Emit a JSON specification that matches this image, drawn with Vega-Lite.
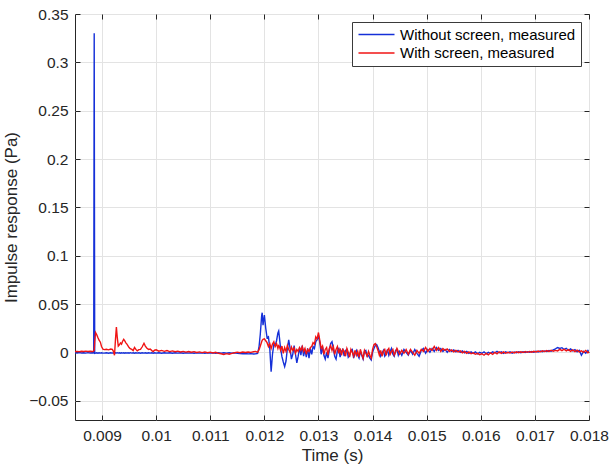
{
  "$schema": "https://vega.github.io/schema/vega-lite/v6.json",
  "width": 514,
  "height": 406,
  "autosize": "none",
  "padding": {"left": 75, "top": 14, "right": 22, "bottom": 52},
  "background": "white",
  "config": {
    "font": "Liberation Sans",
    "view": {"stroke": "#262626", "strokeWidth": 1},
    "axis": {
      "domain": false,
      "grid": true,
      "gridColor": "#e3e3e3",
      "gridWidth": 1,
      "tickColor": "#262626",
      "tickSize": -5,
      "tickWidth": 1,
      "labelColor": "#262626",
      "labelFont": "Liberation Sans",
      "labelFontSize": 15.5,
      "labelOverlap": false,
      "labelFlush": false,
      "titleColor": "#262626",
      "titleFont": "Liberation Sans",
      "titleFontSize": 17,
      "titleFontWeight": "normal"
    },
    "legend": {
      "orient": "top-right",
      "offset": 8,
      "title": null,
      "strokeColor": "#3a3a3a",
      "fillColor": "white",
      "padding": 5,
      "rowPadding": 2.5,
      "symbolType": "M-3,0H3",
      "symbolSize": 144,
      "symbolStrokeWidth": 1.3,
      "symbolOffset": 12,
      "labelOffset": 16,
      "labelLimit": 0,
      "labelFont": "Liberation Sans",
      "labelFontSize": 15,
      "labelColor": "black"
    }
  },
  "datasets": {
    "ir": [
      {"t":0.0085,"a":-0.0004,"b":0.0008},
      {"t":0.00854,"a":-0.0008,"b":0.001},
      {"t":0.00858,"a":-0.0003,"b":0.0007},
      {"t":0.00862,"a":-0.0007,"b":0.0011},
      {"t":0.00866,"a":-0.0004,"b":0.0008},
      {"t":0.0087,"a":-0.0008,"b":0.0012},
      {"t":0.00874,"a":-0.0003,"b":0.0009},
      {"t":0.00878,"a":-0.0007,"b":0.0011},
      {"t":0.00882,"a":-0.0004,"b":0.0009},
      {"t":0.00884,"a":-0.0006,"b":0.001},
      {"t":0.008846,"a":-0.0005,"b":0.0015},
      {"t":0.008855,"a":0.33,"b":0.002},
      {"t":0.008864,"a":-0.001,"b":0.011},
      {"t":0.00888,"a":-0.0008,"b":0.0205},
      {"t":0.0089,"a":-0.0004,"b":0.0185},
      {"t":0.008925,"a":-0.0009,"b":0.015},
      {"t":0.008945,"a":-0.0005,"b":0.0125},
      {"t":0.008969,"a":-0.0008,"b":0.0105},
      {"t":0.00899,"a":-0.0004,"b":0.006},
      {"t":0.009017,"a":-0.0008,"b":0.0032},
      {"t":0.00904,"a":-0.0008,"b":0.0028},
      {"t":0.00908,"a":-0.0004,"b":0.0032},
      {"t":0.00912,"a":-0.0009,"b":0.0026},
      {"t":0.00916,"a":-0.0005,"b":0.0034},
      {"t":0.00919,"a":-0.0008,"b":0.003},
      {"t":0.00921,"a":-0.0004,"b":0.001},
      {"t":0.00923,"a":-0.0009,"b":-0.003},
      {"t":0.00925,"a":-0.0005,"b":0.015},
      {"t":0.009265,"a":-0.0008,"b":0.0262},
      {"t":0.00928,"a":-0.0004,"b":0.016},
      {"t":0.0093,"a":-0.0008,"b":0.0065},
      {"t":0.00932,"a":-0.0005,"b":0.0078},
      {"t":0.00934,"a":-0.0009,"b":0.0098},
      {"t":0.00936,"a":-0.0004,"b":0.0085},
      {"t":0.00938,"a":-0.0008,"b":0.0115},
      {"t":0.0094,"a":-0.0005,"b":0.0135},
      {"t":0.00942,"a":-0.0009,"b":0.0118},
      {"t":0.00944,"a":-0.0004,"b":0.0098},
      {"t":0.00946,"a":-0.0008,"b":0.0085},
      {"t":0.00948,"a":-0.0005,"b":0.0068},
      {"t":0.0095,"a":-0.0009,"b":0.005},
      {"t":0.00952,"a":-0.0004,"b":0.0038},
      {"t":0.00955,"a":-0.0008,"b":0.003},
      {"t":0.009575,"a":-0.0005,"b":0.0018},
      {"t":0.0096,"a":-0.0009,"b":0.005},
      {"t":0.009625,"a":-0.0004,"b":0.003},
      {"t":0.00965,"a":-0.0008,"b":0.0015},
      {"t":0.00968,"a":-0.0005,"b":0.0028},
      {"t":0.00971,"a":-0.0009,"b":0.003},
      {"t":0.00974,"a":-0.0004,"b":0.0055},
      {"t":0.009775,"a":-0.0008,"b":0.0094},
      {"t":0.0098,"a":-0.0005,"b":0.0065},
      {"t":0.00983,"a":-0.0009,"b":0.0042},
      {"t":0.00986,"a":-0.0004,"b":0.003},
      {"t":0.00989,"a":-0.0008,"b":0.0034},
      {"t":0.00992,"a":-0.0005,"b":0.0018},
      {"t":0.009945,"a":-0.0009,"b":0.0008},
      {"t":0.00997,"a":-0.0004,"b":0.0022},
      {"t":0.01,"a":-0.0008,"b":0.0026},
      {"t":0.01005,"a":-0.0005,"b":0.0012},
      {"t":0.0101,"a":-0.0009,"b":0.002},
      {"t":0.01015,"a":-0.0004,"b":0.001},
      {"t":0.0102,"a":-0.0008,"b":0.0018},
      {"t":0.01025,"a":-0.0005,"b":0.0008},
      {"t":0.0103,"a":-0.0009,"b":0.0015},
      {"t":0.01035,"a":-0.0004,"b":0.0006},
      {"t":0.0104,"a":-0.0008,"b":0.0012},
      {"t":0.01045,"a":-0.0005,"b":0.0004},
      {"t":0.0105,"a":-0.0009,"b":0.001},
      {"t":0.01055,"a":-0.0004,"b":0.0002},
      {"t":0.0106,"a":-0.0008,"b":0.0009},
      {"t":0.01065,"a":-0.0005,"b":0.0001},
      {"t":0.0107,"a":-0.0009,"b":0.0007},
      {"t":0.01075,"a":-0.0004,"b":-0.0002},
      {"t":0.0108,"a":-0.0008,"b":0.0005},
      {"t":0.01085,"a":-0.0005,"b":-0.0003},
      {"t":0.0109,"a":-0.0009,"b":0.0004},
      {"t":0.01095,"a":-0.0004,"b":-0.0004},
      {"t":0.011,"a":-0.0008,"b":0.0002},
      {"t":0.01105,"a":-0.0005,"b":-0.0006},
      {"t":0.0111,"a":-0.0009,"b":0},
      {"t":0.01115,"a":-0.0004,"b":-0.001},
      {"t":0.0112,"a":-0.0008,"b":-0.0015},
      {"t":0.01125,"a":-0.0005,"b":-0.0022},
      {"t":0.0113,"a":-0.0009,"b":-0.0014},
      {"t":0.01135,"a":-0.0004,"b":-0.002},
      {"t":0.0114,"a":-0.0008,"b":-0.001},
      {"t":0.01145,"a":-0.0005,"b":-0.0004},
      {"t":0.0115,"a":-0.001,"b":0.0002},
      {"t":0.01155,"a":-0.0012,"b":-0.0004},
      {"t":0.0116,"a":-0.0015,"b":0.0003},
      {"t":0.01165,"a":-0.0012,"b":-0.0002},
      {"t":0.0117,"a":-0.0016,"b":0.0004},
      {"t":0.01175,"a":-0.0013,"b":0},
      {"t":0.0118,"a":-0.0017,"b":0.0006},
      {"t":0.01184,"a":-0.0014,"b":0.001},
      {"t":0.011875,"a":-0.001,"b":0},
      {"t":0.0119,"a":0.005,"b":0.0025},
      {"t":0.011925,"a":0.019,"b":0.0065},
      {"t":0.01195,"a":0.038,"b":0.011},
      {"t":0.01196,"a":0.041,"b":0.0125},
      {"t":0.011975,"a":0.028,"b":0.0135},
      {"t":0.012,"a":0.0386,"b":0.014},
      {"t":0.012025,"a":0.025,"b":0.012},
      {"t":0.01205,"a":0.015,"b":0.01},
      {"t":0.012075,"a":0.016,"b":0.006},
      {"t":0.0121,"a":0.004,"b":0.009},
      {"t":0.012125,"a":-0.02,"b":0.004},
      {"t":0.01215,"a":-0.002,"b":0.0085},
      {"t":0.012175,"a":0.008,"b":0.011},
      {"t":0.0122,"a":0.007,"b":0.006},
      {"t":0.012225,"a":0.012,"b":0.009},
      {"t":0.01225,"a":0.02,"b":0.004},
      {"t":0.012265,"a":0.022,"b":0.007},
      {"t":0.012275,"a":0.017,"b":0.0065},
      {"t":0.0123,"a":0.004,"b":0.002},
      {"t":0.012325,"a":-0.0045,"b":0.0065},
      {"t":0.01235,"a":-0.01,"b":-0.001},
      {"t":0.012375,"a":-0.0148,"b":0.005},
      {"t":0.0124,"a":-0.009,"b":0.001},
      {"t":0.012425,"a":0.004,"b":0.007},
      {"t":0.01245,"a":0.013,"b":0.003},
      {"t":0.012475,"a":0.004,"b":0},
      {"t":0.0125,"a":-0.007,"b":0.0055},
      {"t":0.012525,"a":-0.002,"b":0.002},
      {"t":0.01255,"a":0.007,"b":0.0045},
      {"t":0.012575,"a":-0.002,"b":-0.001},
      {"t":0.0126,"a":-0.011,"b":0.003},
      {"t":0.012625,"a":-0.004,"b":0.001},
      {"t":0.01265,"a":0.005,"b":0.005},
      {"t":0.012675,"a":-0.003,"b":0.002},
      {"t":0.0127,"a":0.007,"b":0.006},
      {"t":0.012725,"a":-0.004,"b":0.001},
      {"t":0.01275,"a":0.003,"b":0.004},
      {"t":0.012775,"a":-0.005,"b":-0.002},
      {"t":0.0128,"a":0.004,"b":0.003},
      {"t":0.012825,"a":-0.006,"b":0.001},
      {"t":0.01285,"a":0.004,"b":0.005},
      {"t":0.012875,"a":-0.002,"b":0.006},
      {"t":0.0129,"a":0.006,"b":0.01},
      {"t":0.012925,"a":0.004,"b":0.0085},
      {"t":0.01295,"a":0.011,"b":0.016},
      {"t":0.012975,"a":0.013,"b":0.014},
      {"t":0.013,"a":0.0175,"b":0.0205},
      {"t":0.013025,"a":0.01,"b":0.012},
      {"t":0.01305,"a":-0.002,"b":0.004},
      {"t":0.013075,"a":0.006,"b":0.0065},
      {"t":0.0131,"a":-0.003,"b":-0.002},
      {"t":0.013125,"a":-0.007,"b":0.003},
      {"t":0.01315,"a":0,"b":0.005},
      {"t":0.013175,"a":-0.006,"b":-0.003},
      {"t":0.0132,"a":0.002,"b":0.004},
      {"t":0.013225,"a":0.009,"b":0.007},
      {"t":0.01325,"a":0.011,"b":0.002},
      {"t":0.013275,"a":0.004,"b":0.006},
      {"t":0.0133,"a":-0.004,"b":-0.002},
      {"t":0.013325,"a":-0.007,"b":0.003},
      {"t":0.01335,"a":0.002,"b":0.006},
      {"t":0.013375,"a":0.004,"b":-0.001},
      {"t":0.0134,"a":-0.005,"b":0.004},
      {"t":0.013425,"a":0.001,"b":-0.003},
      {"t":0.01345,"a":0.003,"b":0.003},
      {"t":0.013475,"a":-0.004,"b":0.001},
      {"t":0.0135,"a":0.002,"b":-0.004},
      {"t":0.013525,"a":0.003,"b":0.004},
      {"t":0.01355,"a":-0.005,"b":0},
      {"t":0.013575,"a":-0.003,"b":-0.005},
      {"t":0.0136,"a":0.002,"b":0.003},
      {"t":0.013625,"a":0.003,"b":0},
      {"t":0.01365,"a":-0.006,"b":-0.004},
      {"t":0.013675,"a":-0.001,"b":0.002},
      {"t":0.0137,"a":0.002,"b":-0.003},
      {"t":0.013725,"a":-0.003,"b":0.001},
      {"t":0.01375,"a":-0.006,"b":-0.005},
      {"t":0.013775,"a":0.001,"b":0.003},
      {"t":0.0138,"a":-0.003,"b":-0.002},
      {"t":0.013825,"a":-0.007,"b":-0.006},
      {"t":0.01385,"a":0.001,"b":0.002},
      {"t":0.013875,"a":0.002,"b":-0.001},
      {"t":0.0139,"a":-0.004,"b":-0.004},
      {"t":0.013925,"a":-0.003,"b":0.001},
      {"t":0.01395,"a":-0.006,"b":-0.003},
      {"t":0.013975,"a":-0.008,"b":-0.006},
      {"t":0.014,"a":0,"b":0.003},
      {"t":0.014025,"a":0.004,"b":0.008},
      {"t":0.01405,"a":0.007,"b":0.009},
      {"t":0.014075,"a":0.008,"b":0.006},
      {"t":0.0141,"a":0.005,"b":0.002},
      {"t":0.014125,"a":0.001,"b":-0.003},
      {"t":0.01415,"a":-0.004,"b":0.002},
      {"t":0.014175,"a":-0.001,"b":-0.004},
      {"t":0.0142,"a":0.002,"b":0.001},
      {"t":0.014225,"a":-0.004,"b":0.003},
      {"t":0.01425,"a":-0.002,"b":-0.003},
      {"t":0.014275,"a":0.003,"b":0.002},
      {"t":0.0143,"a":-0.003,"b":0.004},
      {"t":0.014325,"a":0.001,"b":-0.002},
      {"t":0.01435,"a":0.004,"b":0.001},
      {"t":0.014375,"a":-0.002,"b":0.003},
      {"t":0.0144,"a":-0.004,"b":-0.003},
      {"t":0.014425,"a":0.002,"b":0},
      {"t":0.01445,"a":0.003,"b":0.004},
      {"t":0.014475,"a":-0.003,"b":0.001},
      {"t":0.0145,"a":0.001,"b":-0.002},
      {"t":0.01454,"a":-0.003,"b":0.002},
      {"t":0.01458,"a":0.003,"b":-0.001},
      {"t":0.01462,"a":0,"b":0.003},
      {"t":0.01466,"a":-0.003,"b":-0.002},
      {"t":0.0147,"a":0.002,"b":0.003},
      {"t":0.01474,"a":-0.002,"b":0},
      {"t":0.01478,"a":0.003,"b":-0.003},
      {"t":0.01482,"a":-0.001,"b":0.002},
      {"t":0.01486,"a":-0.004,"b":-0.001},
      {"t":0.0149,"a":0.002,"b":0.003},
      {"t":0.01494,"a":0.004,"b":0.001},
      {"t":0.01498,"a":-0.001,"b":0.005},
      {"t":0.01502,"a":0.003,"b":0.001},
      {"t":0.01506,"a":0,"b":0.004},
      {"t":0.0151,"a":0.004,"b":0.002},
      {"t":0.01514,"a":0.001,"b":0.006},
      {"t":0.01518,"a":0.005,"b":0.002},
      {"t":0.01522,"a":0.002,"b":0.005},
      {"t":0.01526,"a":0.004,"b":0.001},
      {"t":0.0153,"a":0.001,"b":0.004},
      {"t":0.01534,"a":0.003,"b":0.002},
      {"t":0.01538,"a":0,"b":0.0035},
      {"t":0.01542,"a":0.003,"b":0.001},
      {"t":0.01546,"a":0.001,"b":0.0025},
      {"t":0.0155,"a":0.0025,"b":0.0005},
      {"t":0.01554,"a":0.0005,"b":0.002},
      {"t":0.01558,"a":0.002,"b":0.0005},
      {"t":0.01562,"a":0,"b":0.0015},
      {"t":0.01566,"a":0.0015,"b":-0.0005},
      {"t":0.0157,"a":-0.0005,"b":0.001},
      {"t":0.01574,"a":0.001,"b":-0.001},
      {"t":0.01578,"a":-0.001,"b":0.0005},
      {"t":0.01582,"a":0.0005,"b":-0.0015},
      {"t":0.01586,"a":-0.001,"b":-0.0005},
      {"t":0.0159,"a":0.0005,"b":-0.002},
      {"t":0.01594,"a":-0.0015,"b":-0.001},
      {"t":0.01598,"a":0,"b":-0.0025},
      {"t":0.01602,"a":-0.001,"b":-0.0015},
      {"t":0.01606,"a":0.0005,"b":-0.003},
      {"t":0.0161,"a":-0.0015,"b":-0.001},
      {"t":0.01614,"a":0,"b":-0.0025},
      {"t":0.01618,"a":-0.001,"b":-0.0005},
      {"t":0.01622,"a":0.0005,"b":-0.002},
      {"t":0.01626,"a":-0.0005,"b":0},
      {"t":0.0163,"a":0.001,"b":-0.0015},
      {"t":0.01634,"a":-0.0005,"b":0.0005},
      {"t":0.01638,"a":0.0005,"b":-0.001},
      {"t":0.01642,"a":-0.001,"b":0.0005},
      {"t":0.01646,"a":0.0005,"b":-0.001},
      {"t":0.0165,"a":-0.0005,"b":0},
      {"t":0.01654,"a":0.0005,"b":-0.0008},
      {"t":0.01658,"a":-0.0008,"b":0.0004},
      {"t":0.01662,"a":0.0003,"b":-0.0006},
      {"t":0.01666,"a":-0.0005,"b":0.0005},
      {"t":0.0167,"a":0.0005,"b":-0.0004},
      {"t":0.01674,"a":-0.0004,"b":0.0006},
      {"t":0.01678,"a":0.0006,"b":-0.0002},
      {"t":0.01682,"a":-0.0002,"b":0.0008},
      {"t":0.01686,"a":0.0007,"b":0},
      {"t":0.0169,"a":0,"b":0.0009},
      {"t":0.01694,"a":0.0009,"b":0.0002},
      {"t":0.01698,"a":0.0002,"b":0.0011},
      {"t":0.01702,"a":0.0011,"b":0.0004},
      {"t":0.01706,"a":0.0004,"b":0.0013},
      {"t":0.0171,"a":0.0013,"b":0.0005},
      {"t":0.01714,"a":0.0006,"b":0.0016},
      {"t":0.01718,"a":0.0015,"b":0.0008},
      {"t":0.01722,"a":0.0008,"b":0.0018},
      {"t":0.01726,"a":0.0018,"b":0.001},
      {"t":0.0173,"a":0.0012,"b":0.0022},
      {"t":0.01734,"a":0.0025,"b":0.0012},
      {"t":0.01738,"a":0.0035,"b":0.002},
      {"t":0.01742,"a":0.005,"b":0.0015},
      {"t":0.01746,"a":0.004,"b":0.003},
      {"t":0.0175,"a":0.0048,"b":0.0018},
      {"t":0.01754,"a":0.003,"b":0.0032},
      {"t":0.01758,"a":0.0042,"b":0.0015},
      {"t":0.01762,"a":0.002,"b":0.0028},
      {"t":0.01766,"a":0.0035,"b":0.001},
      {"t":0.0177,"a":0.0015,"b":0.0025},
      {"t":0.01774,"a":0.0028,"b":0.0008},
      {"t":0.01778,"a":0.0005,"b":0.0022},
      {"t":0.01782,"a":0.002,"b":0.0005},
      {"t":0.01786,"a":-0.003,"b":0.0015},
      {"t":0.0179,"a":0.001,"b":0},
      {"t":0.01794,"a":-0.001,"b":0.002},
      {"t":0.01798,"a":0.002,"b":-0.0005},
      {"t":0.018,"a":0.0005,"b":0.001}
    ]
  },
  "layer": [
    {
      "data": {"name": "ir"},
      "transform": [{"fold": ["a", "b"], "as": ["series", "p"]}],
      "mark": {"type": "line", "strokeWidth": 1.4, "clip": true},
      "encoding": {
        "x": {
          "field": "t",
          "type": "quantitative",
          "scale": {"domain": [0.0085, 0.018], "nice": false, "zero": false},
          "axis": {
            "values": [0.009, 0.01, 0.011, 0.012, 0.013, 0.014, 0.015, 0.016, 0.017, 0.018],
            "format": "~f",
            "title": "Time (s)",
            "labelPadding": 13,
            "titlePadding": 4
          }
        },
        "y": {
          "field": "p",
          "type": "quantitative",
          "scale": {"domain": [-0.07, 0.35], "nice": false, "zero": false},
          "axis": {
            "values": [-0.05, 0, 0.05, 0.1, 0.15, 0.2, 0.25, 0.3, 0.35],
            "format": "~f",
            "title": "Impulse response (Pa)",
            "labelPadding": 12,
            "titlePadding": 8
          }
        },
        "color": {
          "field": "series",
          "type": "nominal",
          "scale": {"domain": ["a", "b"], "range": ["#1530d8", "#f01414"]},
          "legend": {
            "labelExpr": "datum.value == 'a' ? 'Without screen, measured' : 'With screen, measured'"
          }
        }
      }
    },
    {
      "data": {"values": [{"t": 0.0085, "p": 0}]},
      "mark": {"type": "point", "opacity": 0},
      "encoding": {
        "x": {
          "field": "t",
          "type": "quantitative",
          "scale": {"domain": [0.0085, 0.018], "nice": false, "zero": false},
          "axis": {
            "orient": "top",
            "values": [0.009, 0.01, 0.011, 0.012, 0.013, 0.014, 0.015, 0.016, 0.017, 0.018],
            "labels": false,
            "title": null,
            "grid": false
          }
        },
        "y": {
          "field": "p",
          "type": "quantitative",
          "scale": {"domain": [-0.07, 0.35], "nice": false, "zero": false},
          "axis": {
            "orient": "right",
            "values": [-0.05, 0, 0.05, 0.1, 0.15, 0.2, 0.25, 0.3, 0.35],
            "labels": false,
            "title": null,
            "grid": false
          }
        }
      }
    }
  ],
  "resolve": {"axis": {"x": "independent", "y": "independent"}}
}
